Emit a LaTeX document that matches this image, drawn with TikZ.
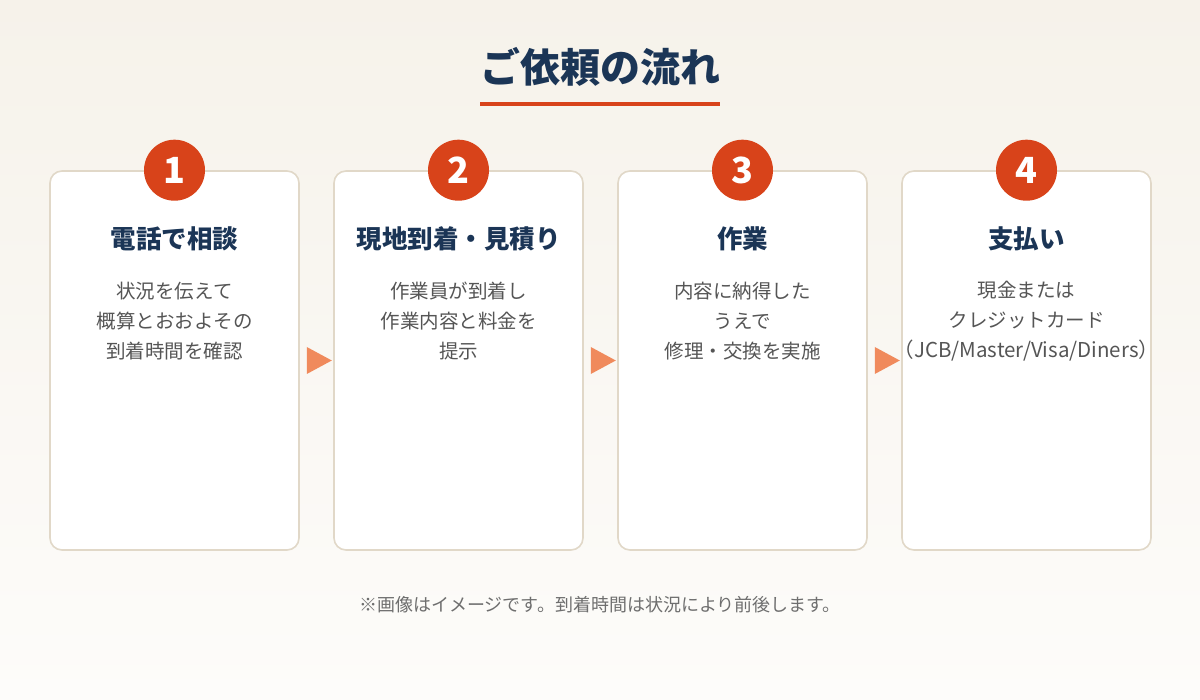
\documentclass[tikz,border=0pt]{standalone}
\usepackage{fontspec}
\setmainfont{Noto Sans CJK JP}
\usepackage{xcolor}
\usetikzlibrary{positioning, calc}
\definecolor{navy}{RGB}{27, 53, 86}
\definecolor{accent}{RGB}{216, 67, 26}
\definecolor{edge}{RGB}{225, 216, 200}
\definecolor{body}{RGB}{85, 85, 85}
\definecolor{pointer}{RGB}{240, 138, 92}
\definecolor{bgtop}{RGB}{246, 242, 234}
\definecolor{bgbot}{RGB}{253, 252, 250}
\tikzset{
    card/.style={rectangle, rounded corners=12pt, draw=edge, line width=1.6pt, fill=white, minimum width=249pt, minimum height=379pt, inner sep=0pt},
    badge/.style={circle, fill=accent, minimum size=61pt, inner sep=0pt, text=white, font=\fontsize{36}{36}\selectfont\bfseries},
    cardtitle/.style={text=navy, font=\fontsize{25.5}{30}\selectfont\bfseries},
    cardtext/.style={text=body, align=center, font=\fontsize{19.5}{30}\selectfont},
    pointer/.style={fill=pointer}
}

\begin{document}
\begin{tikzpicture}[x=1pt, y=-1pt]
        \useasboundingbox (0,0) rectangle (1200,700);
        \shade[top color=bgtop, bottom color=bgbot] (0,0) rectangle (1200,700);
        % title
        \node[text=navy, font=\fontsize{40}{44}\selectfont\bfseries] (title) at (600,67) {ご依頼の流れ};
        \draw[accent, line width=4pt] (480,104) -- (720,104);
        % cards
        \node[card] (c1) at (174.5,360.5) {};
        \node[card] (c2) at (458.5,360.5) {};
        \node[card] (c3) at (742.5,360.5) {};
        \node[card] (c4) at (1026.5,360.5) {};
        \node[badge] (b1) at (c1.north) {1};
        \node[badge] (b2) at (c2.north) {2};
        \node[badge] (b3) at (c3.north) {3};
        \node[badge] (b4) at (c4.north) {4};
        \node[cardtitle] (t1) at ($(c1.north)+(0,69)$) {電話で相談};
        \node[cardtitle] (t2) at ($(c2.north)+(0,69)$) {現地到着・見積り};
        \node[cardtitle] (t3) at ($(c3.north)+(0,69)$) {作業};
        \node[cardtitle] (t4) at ($(c4.north)+(0,69)$) {支払い};
        \node[cardtext] (d1) at ($(c1.north)+(0,151)$) {状況を伝えて\\概算とおおよその\\到着時間を確認};
        \node[cardtext] (d2) at ($(c2.north)+(0,151)$) {作業員が到着し\\作業内容と料金を\\提示};
        \node[cardtext] (d3) at ($(c3.north)+(0,151)$) {内容に納得した\\うえで\\修理・交換を実施};
        \node[cardtext] (d4) at ($(c4.north)+(0,151)$) {現金または\\クレジットカード\\{\fontsize{20.5}{30}\selectfont（JCB/Master/Visa/Diners）}};
        % pointers between cards
        \fill[pointer] ($(c1.east)+(7,-13.5)$) -- ++(25,13.5) -- ++(-25,13.5) -- cycle;
        \fill[pointer] ($(c2.east)+(7,-13.5)$) -- ++(25,13.5) -- ++(-25,13.5) -- cycle;
        \fill[pointer] ($(c3.east)+(7,-13.5)$) -- ++(25,13.5) -- ++(-25,13.5) -- cycle;
        % note
        \node[text=body!85, font=\fontsize{18}{20}\selectfont] (note) at (600,605) {※画像はイメージです。到着時間は状況により前後します。};
    \end{tikzpicture}
\end{document}
